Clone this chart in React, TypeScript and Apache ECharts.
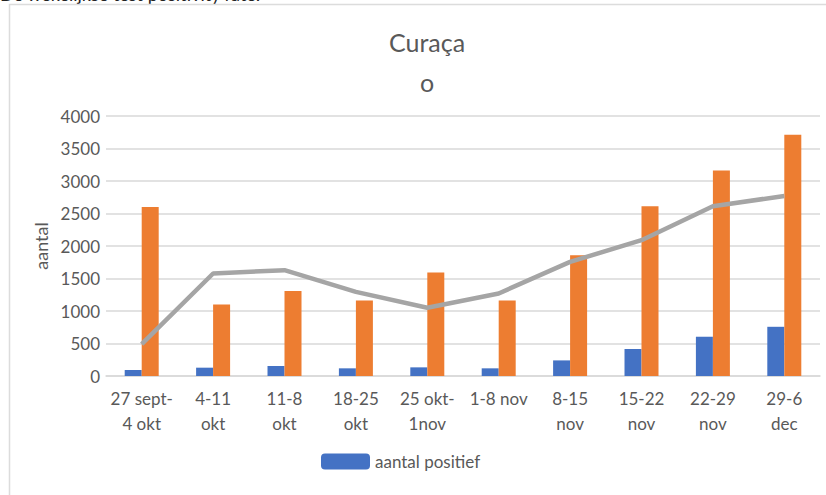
import React, { useEffect, useRef } from "react";
import * as echarts from "echarts";

const categories = [
  "27 sept-\n4 okt",
  "4-11\nokt",
  "11-8\nokt",
  "18-25\nokt",
  "25 okt-\n1nov",
  "1-8 nov",
  "8-15\nnov",
  "15-22\nnov",
  "22-29\nnov",
  "29-6\ndec",
];
const positief = [92, 128, 154, 118, 133, 118, 240, 415, 604, 757];
const testen = [2601, 1101, 1306, 1163, 1593, 1163, 1859, 2611, 3160, 3713];
const rate = [490, 1577, 1628, 1295, 1050, 1270, 1756, 2089, 2611, 2770];
const yTicks = { min: 0, max: 4000, interval: 500 };

const FONT = "Lato, 'Open Sans', sans-serif";
const TXT = "#595959";

export default function App() {
  const ref = useRef<HTMLDivElement>(null);
  useEffect(() => {
    if (!ref.current) return;
    const chart = echarts.init(ref.current, null, { renderer: "svg" });
    chart.setOption({
      animation: false,
      backgroundColor: "#ffffff",
      textStyle: { fontFamily: FONT },
      title: {
        text: "Curaça\no",
        left: 422,
        textAlign: "center",
        top: 17,
        textStyle: {
          fontFamily: FONT,
          fontSize: 25,
          fontWeight: "normal",
          color: TXT,
          lineHeight: 40,
        },
      },
      graphic: [
        {
          type: "text",
          left: 0,
          top: -15,
          style: {
            text: "De wekelijkse test positivity rate:",
            font: `18px ${FONT}`,
            fill: "#222",
          },
        },
        {
          type: "rect",
          shape: { x: 9.5, y: 4.5, width: 830, height: 500 },
          style: { fill: "none", stroke: "#dcdcdc", lineWidth: 1.5 },
          silent: true,
        },
      ],
      legend: {
        data: ["aantal positief"],
        left: 316,
        top: 448,
        itemWidth: 49,
        itemHeight: 16,
        itemGap: 20,
        textStyle: { fontFamily: FONT, fontSize: 17, color: TXT },
      },
      grid: { left: 106, right: 6, top: 116, bottom: 119 },
      xAxis: {
        type: "category",
        data: categories,
        axisLine: { show: true, lineStyle: { color: "#d9d9d9", width: 1.5 } },
        axisTick: { show: false },
        axisLabel: {
          fontFamily: FONT,
          fontSize: 17,
          color: TXT,
          lineHeight: 25,
          margin: 10,
          interval: 0,
        },
      },
      yAxis: {
        type: "value",
        min: yTicks.min,
        max: yTicks.max,
        interval: yTicks.interval,
        name: "aantal",
        nameLocation: "middle",
        nameGap: 43,
        nameTextStyle: { fontFamily: FONT, fontSize: 18, color: TXT },
        axisLine: { show: false },
        axisTick: { show: false },
        axisLabel: {
          fontFamily: FONT,
          fontSize: 17,
          color: TXT,
          margin: 6,
          formatter: (v: number) => String(v),
        },
        splitLine: { lineStyle: { color: "#d9d9d9", width: 1.5 } },
      },
      series: [
        {
          name: "aantal positief",
          type: "bar",
          data: positief,
          barWidth: 17,
          barGap: "0%",
          itemStyle: { color: "#4472C4" },
        },
        {
          name: "aantal testen",
          type: "bar",
          data: testen,
          barWidth: 17,
          barGap: "0%",
          itemStyle: { color: "#ED7D31" },
        },
        {
          name: "positivity rate",
          type: "line",
          data: rate,
          symbol: "none",
          lineStyle: { color: "#A5A5A5", width: 4.5 },
          z: 5,
        },
      ],
    });
    return () => chart.dispose();
  }, []);
  return (
    <div
      ref={ref}
      style={{ position: "fixed", left: 0, top: 0, width: 826, height: 495 }}
    />
  );
}
